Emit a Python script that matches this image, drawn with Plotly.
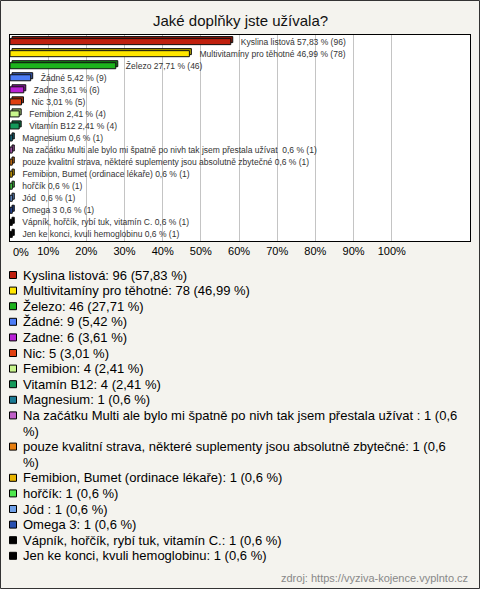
import plotly.graph_objects as go

title = "Jaké doplňky jste užívala?"
names = [
    "Kyslina listová",
    "Multivitamíny pro těhotné",
    "Železo",
    "Žádné",
    "Zadne",
    "Nic",
    "Femibion",
    "Vitamín B12",
    "Magnesium",
    "Na začátku Multi ale bylo mi špatně po nivh tak jsem přestala užívat ",
    "pouze kvalitní strava, některé suplementy jsou absolutně zbytečné",
    "Femibion, Bumet (ordinace lékaře)",
    "hořčík",
    "Jód ",
    "Omega 3",
    "Vápník, hořčík, rybí tuk, vitamín C.",
    "Jen ke konci, kvuli hemoglobinu",
]
counts = [96, 78, 46, 9, 6, 5, 4, 4, 1, 1, 1, 1, 1, 1, 1, 1, 1]
percents = [57.83, 46.99, 27.71, 5.42, 3.61, 3.01, 2.41, 2.41, 0.6, 0.6, 0.6, 0.6, 0.6, 0.6, 0.6, 0.6, 0.6]
colors = [
    "#c0200e", "#ffe600", "#1db31d", "#4d7cf5", "#b921d6", "#e04010", "#c8f58c",
    "#14995a", "#1a7a94", "#c060c8", "#e67e10", "#e8b400", "#4ee84e", "#6fa0e8",
    "#2850b0", "#000000", "#000000",
]
# legend entries that wrap onto a second line in the original
wrapped = {9, 10}
x_ticks = [0, 10, 20, 30, 40, 50, 60, 70, 80, 90, 100]
x_ticktext = [f"{t}%" for t in x_ticks]
source = "zdroj: https://vyziva-kojence.vyplnto.cz"

W, H = 480, 589
ML, MR, MT, MB = 10, 10, 35, 348
PW, PH = W - ML - MR, H - MT - MB
X_MAX = 120.5
BAR_W = 0.5
DEPTH_X = 2 * X_MAX / PW      # ~2px of 3D depth, in axis units
DEPTH_Y = 0.17                # ~2px in category units


def fmt(p):
    return str(p).replace(".", ",")


def px_x(px):
    return (px - ML) / PW


def px_y(py):
    return (H - MB - py) / PH


def darker(hexcol, f=0.7):
    r, g, b = (int(hexcol[k:k + 2], 16) for k in (1, 3, 5))
    return "#%02x%02x%02x" % (int(r * f), int(g * f), int(b * f))


fig = go.Figure()
for i, (n, c, p, col) in enumerate(zip(names, counts, percents, colors)):
    # 3D depth face behind the bar
    fig.add_trace(go.Bar(
        x=[p], y=[i], base=[DEPTH_X], orientation="h", width=BAR_W,
        offset=-BAR_W / 2 - DEPTH_Y,
        marker=dict(color=darker(col), line=dict(color="#111111", width=1)),
        showlegend=False, hoverinfo="skip",
    ))
    fig.add_trace(go.Bar(
        x=[p], y=[i], orientation="h", width=BAR_W,
        marker=dict(color=col, line=dict(color="#111111", width=1)),
        text=[f"\u00a0\u00a0\u00a0{n} {fmt(p)} % ({c})"], textposition="outside",
        constraintext="none",
        textfont=dict(size=8.5, color="#333333", family="Liberation Sans, Arial, sans-serif"),
        cliponaxis=False, showlegend=False, hoverinfo="skip",
    ))

# manual legend (tight line spacing as in the original)
annotations = []
shapes = []
row_h = 15.6
line = 0
for i, (n, c, p, col) in enumerate(zip(names, counts, percents, colors)):
    yc = 275 + line * row_h
    shapes.append(dict(type="rect", xref="paper", yref="paper",
                       x0=px_x(9.5), x1=px_x(16.5), y0=px_y(yc + 3.5), y1=px_y(yc - 3.5),
                       line=dict(color="#000000", width=1), fillcolor=col))
    if i in wrapped:
        first, second = f"{n}: {c} (0,6", "%)"
    else:
        first, second = f"{n}: {c} ({fmt(p)} %)", None
    annotations.append(dict(text=first, xref="paper", yref="paper", x=px_x(20.5), y=px_y(yc),
                            xanchor="left", yanchor="middle", showarrow=False,
                            font=dict(size=13, color="#000000")))
    line += 1
    if second:
        yc2 = 275 + line * row_h
        annotations.append(dict(text=second, xref="paper", yref="paper", x=px_x(20.5), y=px_y(yc2),
                                xanchor="left", yanchor="middle", showarrow=False,
                                font=dict(size=13, color="#000000")))
        line += 1

# first tick label sits left-aligned at the axis start in the original
annotations.append(dict(text=x_ticktext[0], xref="paper", yref="paper", x=px_x(11), y=px_y(252),
                        xanchor="left", yanchor="middle", showarrow=False,
                        font=dict(size=11, color="#000000")))
annotations.append(dict(text=source, xref="paper", yref="paper", x=px_x(470), y=px_y(578),
                        xanchor="right", yanchor="middle", showarrow=False,
                        font=dict(size=11, color="#888888")))
annotations.append(dict(text=title, xref="paper", yref="paper", x=0.5, y=px_y(20),
                        xanchor="center", yanchor="middle", showarrow=False,
                        font=dict(size=15, color="#111111")))

shapes.append(dict(type="rect", xref="paper", yref="paper",
                   x0=px_x(0.5), x1=px_x(W - 0.5), y0=px_y(H - 0.5), y1=px_y(0.5),
                   line=dict(color="#333333", width=1), fillcolor="rgba(0,0,0,0)", layer="below"))

fig.update_layout(
    width=W, height=H,
    margin=dict(l=ML, r=MR, t=MT, b=MB, autoexpand=False),
    paper_bgcolor="#f4f3ee", plot_bgcolor="#ffffff",
    font=dict(family="Liberation Sans, Arial, sans-serif", color="#000000"),
    barmode="overlay",
    showlegend=False,
    xaxis=dict(range=[0, X_MAX], tickvals=x_ticks, ticktext=[""] + x_ticktext[1:],
               showgrid=True, gridcolor="#c4c4c4", gridwidth=1, zeroline=False,
               showline=True, linecolor="#000000", linewidth=1, mirror=True,
               tickfont=dict(size=11, color="#000000"), ticks="", ticklen=0, fixedrange=True),
    yaxis=dict(range=[len(names) - 0.45, -0.55], showticklabels=False, showgrid=False,
               zeroline=False, showline=True, linecolor="#000000", linewidth=1, mirror=True,
               fixedrange=True),
    annotations=annotations,
    shapes=shapes,
)

fig.write_html("out.html", config={"displayModeBar": False},
               post_script="document.body.style.margin='0';document.body.style.padding='0';")
